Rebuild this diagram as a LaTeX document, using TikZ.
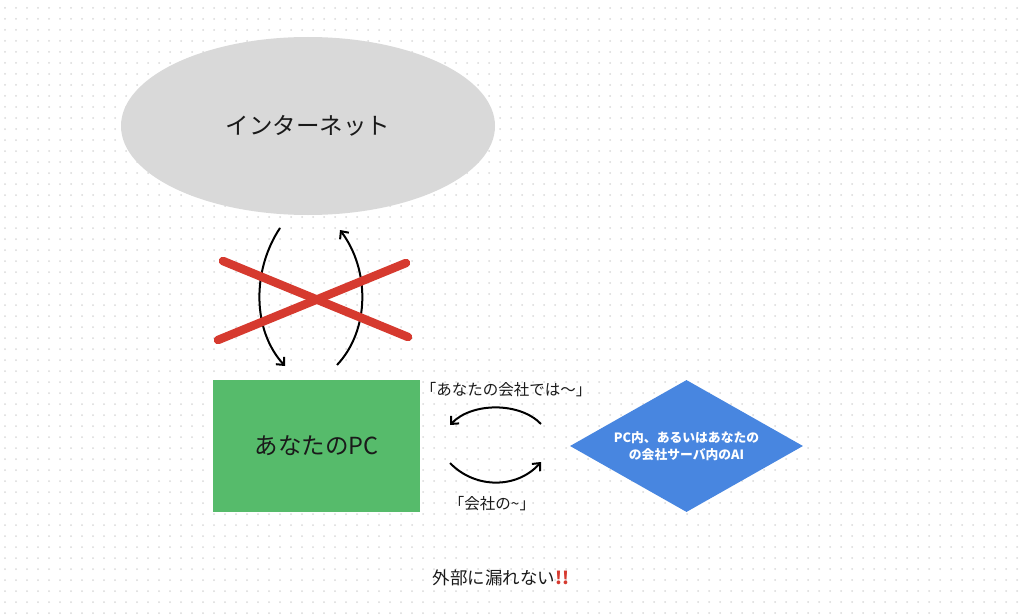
\documentclass[tikz,border=0pt]{standalone}
\usepackage{fontspec}
\setmainfont{Noto Sans CJK JP}
\usetikzlibrary{shapes.geometric,arrows.meta}
\definecolor{gridgray}{RGB}{218,218,218}
\definecolor{ellgray}{RGB}{217,217,217}
\definecolor{pcgreen}{RGB}{86,187,107}
\definecolor{aiblue}{RGB}{72,134,224}
\definecolor{xred}{RGB}{214,58,47}
\definecolor{txt}{RGB}{26,26,26}
\begin{document}
\begin{tikzpicture}[x=1pt,y=-1pt,
  flow/.style={line width=2pt,draw=black,-{Straight Barb[length=6pt,width=11pt,line width=2pt]}},
  cross/.style={line width=8.5pt,draw=xred,line cap=round},
  lbl/.style={text=txt,inner sep=0pt}]
\useasboundingbox (0,0) rectangle (1024,615);
\fill[white] (0,0) rectangle (1024,615);
% dot grid
\foreach \i in {0,...,92}{
  \foreach \j in {0,...,55}{
    \fill[gridgray] (5+11*\i,8+11*\j) circle (1pt);
  }
}
% nodes
\node[ellipse,fill=ellgray,minimum width=374pt,minimum height=178pt,inner sep=0pt,
  font=\fontsize{23.5}{26}\selectfont,text=txt] (inet) at (308,126) {インターネット};
\node[rectangle,fill=pcgreen,minimum width=207pt,minimum height=132pt,inner sep=0pt,
  font=\fontsize{23.5}{26}\selectfont,text=txt] (pc) at (316.5,446) {あなたのPC};
\node[diamond,fill=aiblue,minimum width=233pt,minimum height=132pt,inner sep=0pt,aspect=1.77,
  text=white,font=\fontsize{12.8}{17}\selectfont\bfseries,align=center] (ai) at (686.5,446)
  {PC内、あるいはあなたの\\の会社サーバ内のAI};
% connector end points
\coordinate (d1) at (280,228);
\coordinate (d2) at (285,366);
\coordinate (u1) at (337,365);
\coordinate (u2) at (340,230);
\coordinate (h1) at (541,424);
\coordinate (h2) at (450,425);
\coordinate (h3) at (450,463);
\coordinate (h4) at (541,462);
\coordinate (xa) at (223,261);
\coordinate (xb) at (408,337);
\coordinate (xc) at (218,340);
\coordinate (xd) at (406,263);
% vertical arcs
\draw[flow] (d1) .. controls (252,270) and (252,330) .. (d2);
\draw[flow] (u1) .. controls (370,330) and (370,270) .. (u2);
% red cross
\draw[cross] (xa) -- (xb);
\draw[cross] (xc) -- (xd);
% horizontal arcs
\draw[flow] (h1) .. controls (520,402) and (472,402) .. (h2);
\draw[flow] (h3) .. controls (475,489) and (517,489) .. (h4);
% labels
\node[lbl,font=\fontsize{15.5}{18}\selectfont] (l1) at (506,390) {「あなたの会社では〜」};
\node[lbl,font=\fontsize{15.5}{18}\selectfont] (l2) at (492,504) {「会社の\textasciitilde」};
\node[lbl,font=\fontsize{17.5}{20}\selectfont] (l3) at (501,578) {外部に漏れない\textcolor{xred}{\bfseries !!}};
\end{tikzpicture}
\end{document}
